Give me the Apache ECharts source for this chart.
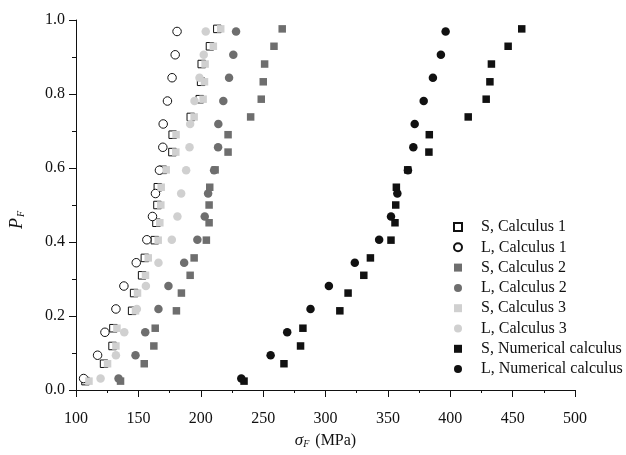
<!DOCTYPE html>
<html>
<head>
<meta charset="utf-8">
<script src="https://cdn.jsdelivr.net/npm/echarts@6/dist/echarts.min.js"></script>
<style>
  html, body { margin: 0; padding: 0; background: #fff; }
  #chart { width: 626px; height: 455px; }
</style>
</head>
<body>
<div id="chart"></div>
<script>
"use strict"
// probability levels: S series have 21 points, L series have 16
const pS = [0.024, 0.071, 0.119, 0.167, 0.214, 0.262, 0.310, 0.357, 0.405, 0.452, 0.500,
            0.548, 0.595, 0.643, 0.690, 0.738, 0.786, 0.833, 0.881, 0.929, 0.976];
const pL = [0.031, 0.094, 0.156, 0.219, 0.281, 0.344, 0.406, 0.469,
            0.531, 0.594, 0.656, 0.719, 0.781, 0.844, 0.906, 0.969];

// stress values (MPa)
const sCalc1 = [107.6, 122.5, 129.3, 130, 145, 146.6, 153, 155.2, 163.2, 164.5, 165.3,
                165.6, 169.6, 177.3, 177.5, 192, 199.2, 200.3, 200.8, 207.4, 213.3];
const lCalc1 = [106.1, 117.3, 123.2, 132, 138.4, 148.3, 156.8, 161.3,
                163.7, 166.9, 169.6, 169.9, 173.3, 177, 179.5, 181];
const sCalc2 = [135.7, 154.7, 162.4, 163.5, 180.5, 184.5, 191.5, 194.7, 204.5, 206.7, 206.7,
                207.2, 211.5, 221.9, 221.9, 240, 248.5, 250.1, 251.2, 258.7, 265.3];
const lCalc2 = [134.1, 147.7, 155.5, 166.1, 174.1, 186.7, 197.3, 203.2,
                205.9, 210.7, 213.9, 214.1, 218.1, 222.7, 226.1, 228.3];
const sCalc3 = [110.4, 125.3, 132, 132.8, 147.7, 149.3, 155.7, 157.9, 165.9, 167.2, 168,
                168.3, 172.3, 180, 180.2, 194.7, 201.9, 203, 203.5, 210.1, 216];
const lCalc3 = [119.7, 132, 138.7, 148.8, 156, 166.1, 176.8, 181.3,
                184.3, 188.3, 191, 191.5, 195, 199, 202.4, 204];
const sNum = [234.7, 266.7, 280, 281.9, 311.5, 318.1, 330.7, 336, 352.5, 355.7, 356.3,
              356.8, 365.9, 382.9, 383.2, 414.4, 428.8, 431.8, 433, 446.4, 457.3];
const lNum = [232.5, 256, 269.3, 288, 302.7, 323.5, 343, 352.5,
              357.6, 366.1, 370.4, 371.5, 378.7, 386.1, 392.5, 396.3];

const names = ['S, Calculus 1', 'L, Calculus 1', 'S, Calculus 2', 'L, Calculus 2',
               'S, Calculus 3', 'L, Calculus 3', 'S, Numerical calculus', 'L, Numerical calculus'];

const font = 'Liberation Serif, Times New Roman, serif';

function pairs(xs, ps) {
    return xs.map(function (x, i) { return [x, ps[i]]; });
}

function mkSeries(name, xs, ps, shape, fill, border) {
    let isSquare = shape === 'rect';
    return {
        name: name,
        type: 'scatter',
        symbol: shape,
        symbolSize: isSquare ? 7.5 : 8.5,
        data: pairs(xs, ps),
        itemStyle: {
            color: fill,
            borderColor: border || fill,
            borderWidth: border ? 1 : 0,
            opacity: 1
        },
        emphasis: { disabled: true }
    };
}

let chart = echarts.init(document.getElementById('chart'));

chart.setOption({
    animation: false,
    backgroundColor: '#fff',
    textStyle: { fontFamily: font },
    grid: { left: 75, right: 51, top: 20, bottom: 65 },
    legend: {
        orient: 'vertical',
        left: 448,
        top: 214,
        itemWidth: 8,
        itemHeight: 8,
        itemGap: 4.3,
        textStyle: {
            fontFamily: font, fontSize: 16, color: '#111',
            lineHeight: 16, padding: [0, 0, 0, 14]
        },
        data: names
    },
    xAxis: {
        type: 'value',
        min: 100, max: 500, interval: 50,
        name: '{i|σ}{sub|F} (MPa)',
        nameLocation: 'middle',
        nameGap: 33,
        nameTextStyle: {
            fontFamily: font, fontSize: 16, color: '#111',
            rich: {
                i: { fontFamily: font, fontSize: 17, fontStyle: 'italic', color: '#111' },
                sub: { fontFamily: font, fontSize: 10, fontStyle: 'italic', color: '#111',
                       verticalAlign: 'bottom', padding: [8, 2, 0, 0] }
            }
        },
        axisLine: { lineStyle: { color: '#111', width: 1 } },
        axisTick: { inside: false, length: 7, lineStyle: { color: '#111' } },
        minorTick: { show: true, splitNumber: 2, length: 3, lineStyle: { color: '#111' } },
        axisLabel: { fontFamily: font, fontSize: 16, color: '#111', margin: 21 },
        splitLine: { show: false }
    },
    yAxis: {
        type: 'value',
        min: 0, max: 1, interval: 0.2,
        name: '{i|P}{sub|F}',
        nameLocation: 'middle',
        nameGap: 50,
        nameRotate: 90,
        nameTextStyle: {
            fontFamily: font, fontSize: 17, color: '#111',
            padding: [0, 30, 0, 0],
            rich: {
                i: { fontFamily: font, fontSize: 18, fontStyle: 'italic', color: '#111' },
                sub: { fontFamily: font, fontSize: 10, fontStyle: 'italic', color: '#111',
                       verticalAlign: 'bottom', padding: [8, 0, 0, 1] }
            }
        },
        axisLine: { show: true, lineStyle: { color: '#111', width: 1 } },
        axisTick: { show: true, inside: false, length: 7, lineStyle: { color: '#111' } },
        minorTick: { show: true, splitNumber: 2, length: 4, lineStyle: { color: '#111' } },
        axisLabel: {
            fontFamily: font, fontSize: 16, color: '#111', margin: 11,
            formatter: function (v) { return v.toFixed(1); }
        },
        splitLine: { show: false }
    },
    series: [
        mkSeries(names[0], sCalc1, pS, 'rect', '#fff', '#111'),
        mkSeries(names[1], lCalc1, pL, 'circle', '#fff', '#111'),
        mkSeries(names[2], sCalc2, pS, 'rect', '#6e6e6e'),
        mkSeries(names[3], lCalc2, pL, 'circle', '#6e6e6e'),
        mkSeries(names[4], sCalc3, pS, 'rect', '#d0d0d0'),
        mkSeries(names[5], lCalc3, pL, 'circle', '#d0d0d0'),
        mkSeries(names[6], sNum, pS, 'rect', '#111'),
        mkSeries(names[7], lNum, pL, 'circle', '#111')
    ]
});
</script>
</body>
</html>
